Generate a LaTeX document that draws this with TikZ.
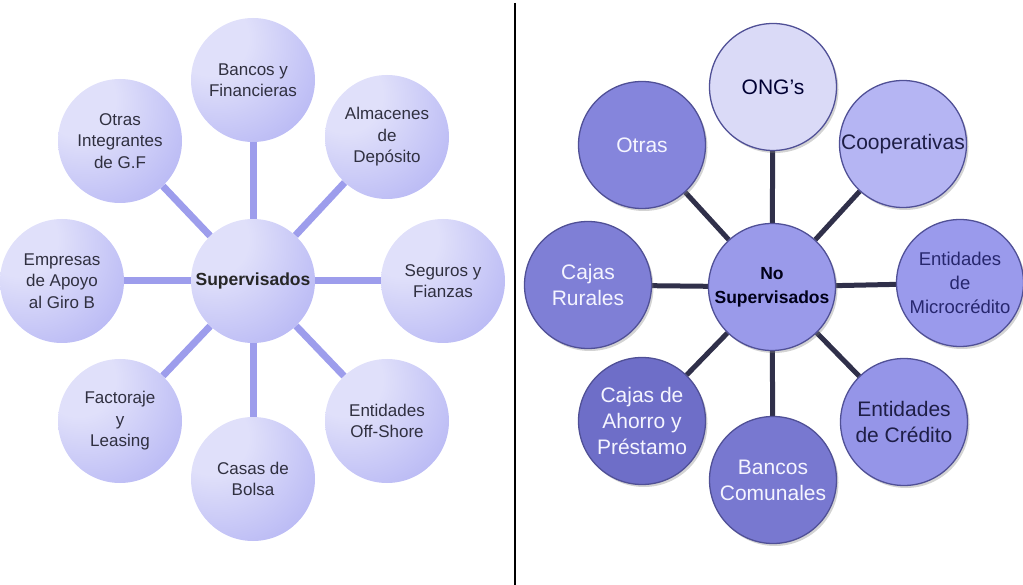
\documentclass[tikz,border=0pt]{standalone}
\usepackage{fontspec}
\setmainfont{Liberation Sans}
\usetikzlibrary{backgrounds,shadows}
\definecolor{lcLight}{RGB}{224,224,250}
\definecolor{lcMid}{RGB}{182,182,244}
\definecolor{lcDark}{RGB}{140,140,236}
\definecolor{lcLine}{RGB}{157,157,236}
\definecolor{lcText}{RGB}{48,48,64}
\definecolor{rcLine}{RGB}{48,48,74}
\definecolor{rcEdge}{RGB}{80,80,150}
\definecolor{cONG}{RGB}{218,218,247}
\definecolor{cOtras}{RGB}{133,133,220}
\definecolor{cCoop}{RGB}{181,181,243}
\definecolor{cRur}{RGB}{127,127,214}
\definecolor{cCen}{RGB}{154,154,234}
\definecolor{cMicro}{RGB}{154,154,236}
\definecolor{cAho}{RGB}{110,110,200}
\definecolor{cCom}{RGB}{120,120,208}
\definecolor{cCred}{RGB}{149,149,232}
\definecolor{tDark}{RGB}{30,30,70}
\definecolor{tWhite}{RGB}{245,245,255}
\pgfdeclareradialshading{lball}{\pgfpoint{-20bp}{20bp}}{%
  color(0bp)=(lcLight); color(15bp)=(lcLight); color(45bp)=(lcMid); color(75bp)=(lcDark); color(95bp)=(lcDark)}
\tikzset{
  lnode/.style={circle, minimum size=124pt, inner sep=0pt, shading=lball, align=center,
    text=lcText, font=\fontsize{17}{21.5}\selectfont},
  lline/.style={draw=lcLine, line width=7pt},
  rnode/.style={circle, minimum size=127pt, inner sep=0pt, draw=rcEdge, line width=1.3pt, align=center,
    font=\fontsize{21}{26}\selectfont, text=tDark,
    drop shadow={shadow xshift=2pt, shadow yshift=-2.5pt, opacity=0.35, fill=gray}},
  rline/.style={draw=rcLine, line width=5pt},
  divider/.style={draw=black, line width=2.6pt}
}
\begin{document}
\begin{tikzpicture}[x=1pt,y=-1pt]
\useasboundingbox (0,0) rectangle (1023,585);
% ---------- left: Supervisados ----------
\node[lnode, font=\fontsize{17.5}{21}\selectfont\bfseries, text=black!85] (sup) at (253,281) {Supervisados};
\node[lnode] (ban) at (253,80) {Bancos y\\Financieras};
\node[lnode] (alm) at (387,137) {Almacenes\\de\\Depósito};
\node[lnode] (otr) at (120,141) {Otras\\Integrantes\\de G.F};
\node[lnode] (emp) at (62,281) {Empresas\\de Apoyo\\al Giro B};
\node[lnode] (seg) at (443,281) {Seguros y\\Fianzas};
\node[lnode] (fac) at (120,421) {Factoraje\\y\\Leasing};
\node[lnode] (cas) at (253,479) {Casas de\\Bolsa};
\node[lnode] (off) at (387,421) {Entidades\\Off-Shore};
\begin{scope}[on background layer]
\foreach \n in {ban,alm,otr,emp,seg,fac,cas,off} \draw[lline] (sup) -- (\n);
\end{scope}
% ---------- divider ----------
\coordinate (dtop) at (515,3);
\coordinate (dbot) at (515,585);
\draw[divider] (dtop) -- (dbot);
% ---------- right: No Supervisados ----------
\node[rnode, fill=cCen, font=\fontsize{17.5}{24}\selectfont\bfseries, text=black!90!blue] (nos) at (772,287) {No\\Supervisados};
\node[rnode, fill=cONG, text=black!80!blue] (ong) at (773,87) {ONG’s};
\node[rnode, fill=cOtras, text=tWhite] (otr2) at (642,145) {Otras};
\node[rnode, fill=cCoop] (coo) at (903,144) {Cooperativas};
\node[rnode, fill=cRur, text=tWhite] (rur) at (588,285) {Cajas\\Rurales};
\node[rnode, fill=cMicro, font=\fontsize{18.5}{24}\selectfont, text=rcLine!80!blue] (mic) at (960,283) {Entidades\\de\\Microcrédito};
\node[rnode, fill=cAho, text=tWhite] (aho) at (642,421) {Cajas de\\Ahorro y\\Préstamo};
\node[rnode, fill=cCom, text=tWhite] (com) at (773,480) {Bancos\\Comunales};
\node[rnode, fill=cCred] (cre) at (904,422) {Entidades\\de Crédito};
\begin{scope}[on background layer]
\foreach \n in {ong,otr2,coo,rur,mic,aho,com,cre} \draw[rline] (nos) -- (\n);
\end{scope}
\end{tikzpicture}
\end{document}
